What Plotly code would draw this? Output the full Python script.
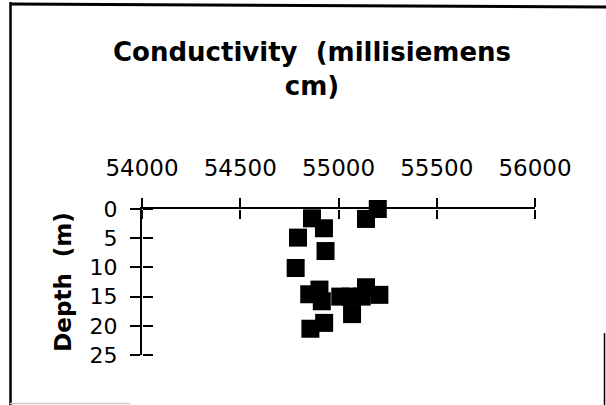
import plotly.graph_objects as go

# ---- data ----
conductivity = [55200, 55140, 54865, 54926, 54794, 54934, 54782, 54851, 54903,
                54915, 55009, 55060, 55118, 55140, 55208, 55069, 54927, 54857]
depth = [0.0, 1.7, 1.6, 3.3, 4.9, 7.2, 10.1, 14.6, 13.8,
         15.8, 15.0, 15.0, 15.0, 13.4, 14.7, 18.0, 19.5, 20.5]

x_ticks = [54000, 54500, 55000, 55500, 56000]
y_ticks = [0, 5, 10, 15, 20, 25]

title_text = "Conductivity &nbsp;(millisiemens<br>cm)"
y_title = "Depth &nbsp;(m)"

# ---- layout geometry (pixels) ----
W, H = 606, 405
L, R, T, B = 142, 71, 209, 50
PW, PH = W - L - R, H - T - B

def px(xp):
    return (xp - L) / PW

def py(yp):
    return 1 - (yp - T) / PH

FONT = "DejaVu Sans"

fig = go.Figure()
fig.add_trace(go.Scatter(
    x=conductivity, y=depth, mode="markers", cliponaxis=False,
    marker=dict(symbol="square", size=18, color="black"),
    showlegend=False, hoverinfo="x+y"))
# invisible copy so the companion axes (inner halves of the crossing ticks) are drawn
fig.add_trace(go.Scatter(
    x=conductivity, y=depth, mode="markers", xaxis="x2", yaxis="y2",
    marker=dict(symbol="square", size=18, color="black", opacity=0),
    showlegend=False, hoverinfo="skip"))

axis_common = dict(showgrid=False, zeroline=False, tickcolor="black", tickwidth=1.5)

fig.update_layout(
    width=W, height=H,
    margin=dict(l=L, r=R, t=T, b=B, autoexpand=False),
    paper_bgcolor="white", plot_bgcolor="white",
    font=dict(family=FONT, color="black"),
    title=dict(text=title_text, x=312 / W, xanchor="center", xref="container",
               y=1 - 61 / H, yanchor="top", yref="container",
               font=dict(family=FONT, size=26, weight="bold", color="black")),
    xaxis=dict(range=[54000, 56000], side="top", tickvals=x_ticks,
               ticktext=[str(v) for v in x_ticks],
               ticks="outside", ticklen=9, showline=True, linewidth=2,
               linecolor="black", tickfont=dict(family=FONT, size=23),
               ticklabelstandoff=13, anchor="y", **axis_common),
    yaxis=dict(range=[25, 0], tickvals=y_ticks,
               ticktext=[str(v) for v in y_ticks],
               ticks="outside", ticklen=10, showline=True, linewidth=2,
               linecolor="black", tickfont=dict(family=FONT, size=22),
               ticklabelstandoff=8, anchor="x",
               title=dict(text=y_title, standoff=12,
                          font=dict(family=FONT, size=23, weight="bold")),
               **axis_common),
    xaxis2=dict(range=[54000, 56000], overlaying="x", side="bottom",
                anchor="free", position=1,
                tickvals=x_ticks, ticks="outside", ticklen=9,
                showticklabels=False, showline=False, **axis_common),
    yaxis2=dict(range=[25, 0], overlaying="y", side="right",
                anchor="free", position=0,
                tickvals=y_ticks, ticks="outside", ticklen=10,
                showticklabels=False, showline=False, **axis_common),
)

# scanned frame around the chart
frame = [
    dict(x0=px(10), y0=py(4), x1=px(606), y1=py(7), w=3),
    dict(x0=px(10.5), y0=py(2), x1=px(10.5), y1=py(405), w=2.5),
    dict(x0=px(604.5), y0=py(333), x1=px(604.5), y1=py(405), w=1.5),
]
for f in frame:
    fig.add_shape(type="line", xref="paper", yref="paper",
                  x0=f["x0"], y0=f["y0"], x1=f["x1"], y1=f["y1"],
                  line=dict(color="black", width=f["w"]), layer="above")
fig.add_shape(type="line", xref="paper", yref="paper",
              x0=px(10), y0=py(403.5), x1=px(130), y1=py(403.5),
              line=dict(color="#cccccc", width=1.5))

fig.write_html("out.html", config={"displayModeBar": False},
               post_script="document.body.style.margin='0';")
